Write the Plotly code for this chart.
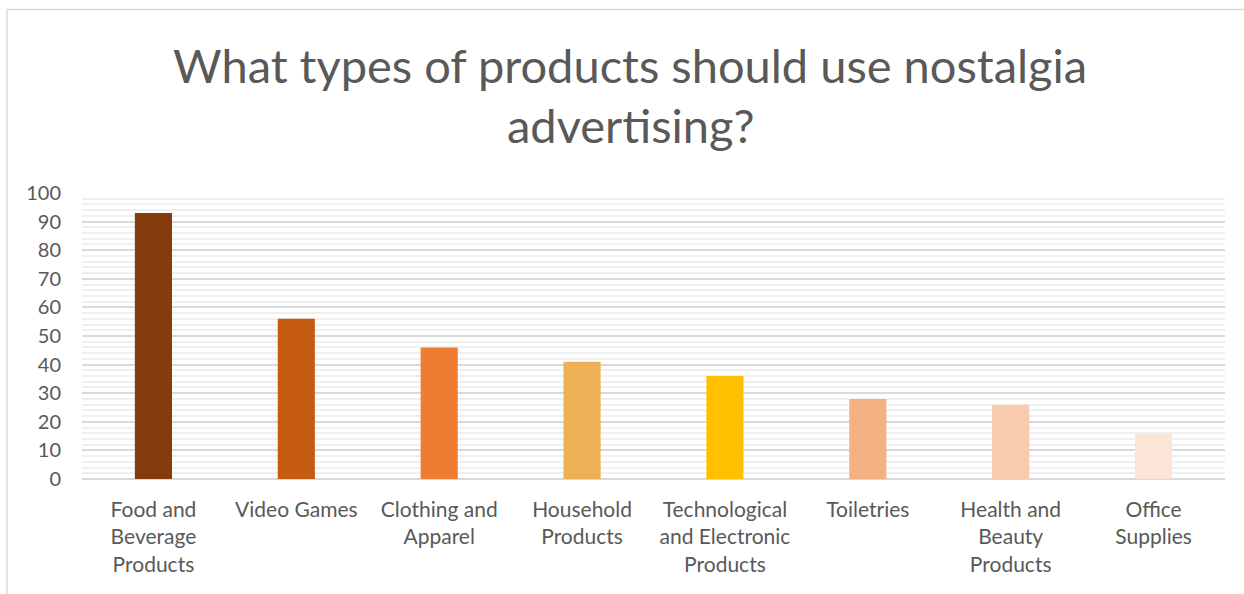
import plotly.graph_objects as go

categories = [
    "Food and<br>Beverage<br>Products",
    "Video Games",
    "Clothing and<br>Apparel",
    "Household<br>Products",
    "Technological<br>and Electronic<br>Products",
    "Toiletries",
    "Health and<br>Beauty<br>Products",
    "Office<br>Supplies",
]
responses = [93, 56, 46, 41, 36, 28, 26, 16]
bar_colors = ["#843C0C", "#C55A11", "#ED7D31", "#EDB057",
              "#FFC000", "#F4B183", "#F8CBAD", "#FBE5D6"]
y_ticks = list(range(0, 101, 10))
title_lines = ["What types of products should use nostalgia", "advertising?"]

W, H = 1244, 594
L, R, T, B = 82, 19, 193, 115
pw, ph = W - L - R, H - T - B


def py(pixel_y):
    """Convert a page pixel row to a paper y coordinate."""
    return (T + ph - pixel_y) / ph


def px(pixel_x):
    """Convert a page pixel column to a paper x coordinate."""
    return (pixel_x - L) / pw


fig = go.Figure(go.Bar(
    x=categories, y=responses, marker=dict(color=bar_colors, line=dict(width=0)),
    hoverinfo="x+y",
))

title_font = dict(family="Lato, Open Sans, sans-serif", size=47, color="#595959")
annotations = [
    dict(text=line, xref="paper", yref="paper", x=px(630), y=py(cy),
         xanchor="center", yanchor="middle", showarrow=False, font=title_font)
    for line, cy in zip(title_lines, [65, 125])
]

fig.update_layout(
    width=W, height=H,
    margin=dict(l=L, r=R, t=T, b=B),
    paper_bgcolor="white", plot_bgcolor="white",
    bargap=0.74,
    showlegend=False,
    font=dict(family="Lato, Open Sans, sans-serif", color="#595959", size=21),
    annotations=annotations,
    xaxis=dict(
        showgrid=False, showline=False, ticks="",
        tickfont=dict(size=21, color="#595959"),
        ticklabelstandoff=16,
    ),
    yaxis=dict(
        range=[0, 100], tickvals=y_ticks,
        showgrid=True, gridcolor="#D9D9D9", gridwidth=1.5,
        minor=dict(dtick=2, showgrid=True, gridcolor="#F0F0F0", gridwidth=1.5),
        zeroline=True, zerolinecolor="#D9D9D9", zerolinewidth=1.5,
        showline=False, ticks="",
        tickfont=dict(size=20, color="#595959"),
        ticklabelstandoff=20,
    ),
    shapes=[dict(
        type="rect", xref="paper", yref="paper",
        x0=px(7), x1=px(W + 5),
        y0=py(H + 5), y1=py(9.5),
        line=dict(color="#D9D9D9", width=1.5), fillcolor="rgba(0,0,0,0)",
        layer="above",
    )],
)

fig.write_html("out.html")
